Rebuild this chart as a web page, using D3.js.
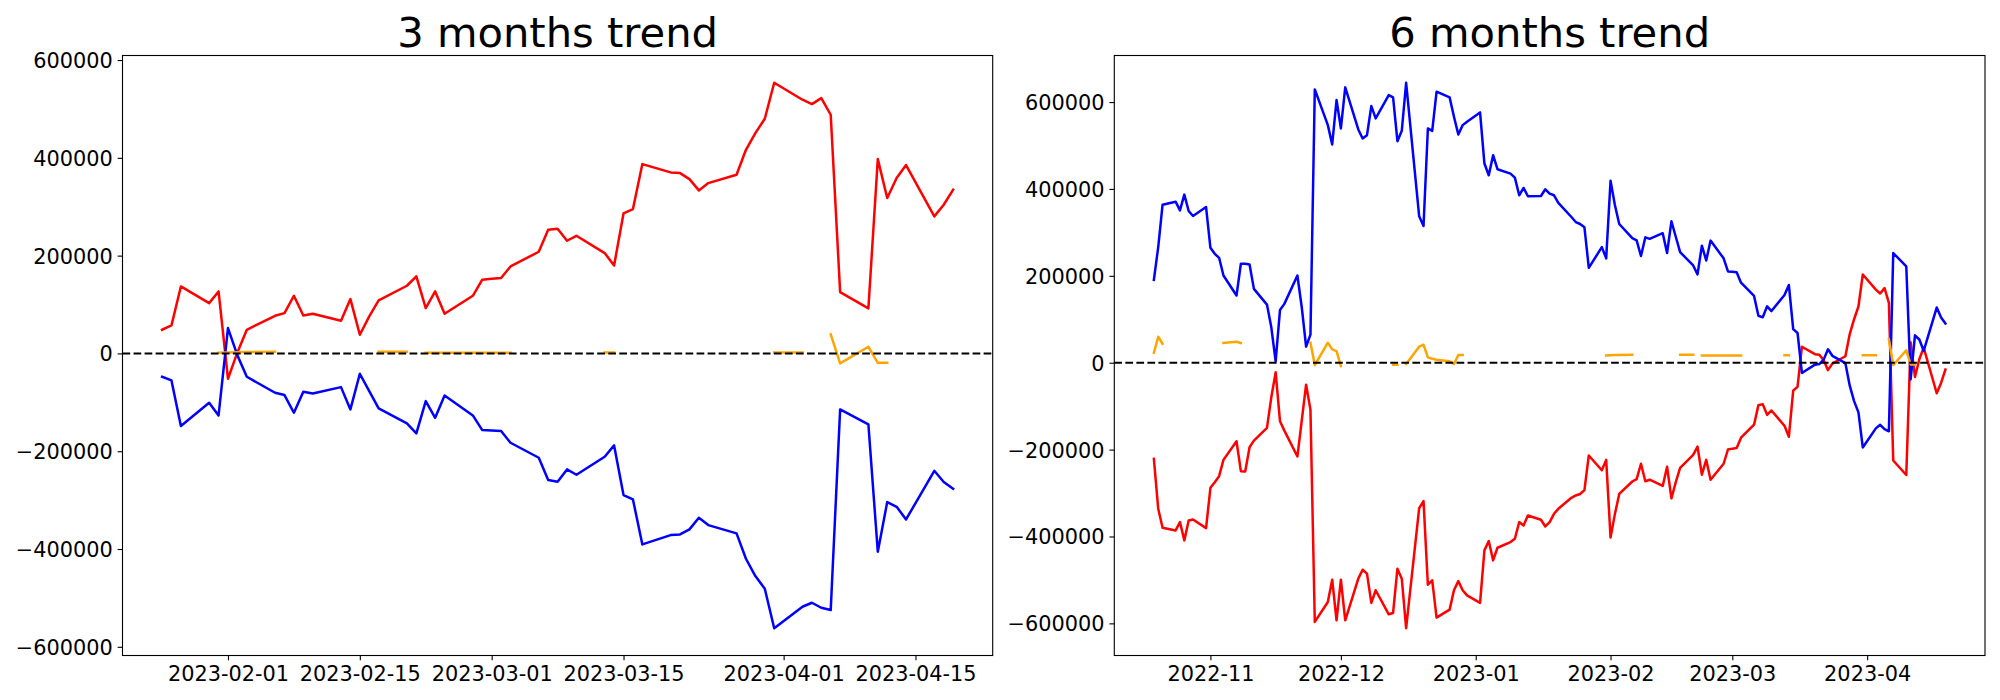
<!DOCTYPE html>
<html><head><meta charset="utf-8">
<script src="https://cdn.jsdelivr.net/npm/d3@7"></script>
<style>body{margin:0;background:#fff} text{font-family:"DejaVu Sans",sans-serif}</style>
</head><body>
<svg id="chart" width="2000" height="700"></svg>
<script>
// ---------- data ----------
const titles = ["3 months trend", "6 months trend"];
const leftRange = ["2023-01-25", "2023-04-19"];   // business days
const rightRange = ["2022-10-19", "2023-04-19"];  // business days

const leftRed = [
  48400, 57300, 137000, 102900, 126800,
  -51800, 2000, 48400, 77000, 82500, 117900, 77700, 81100, 66800, 111100, 38200, 75700, 108400, 138400, 157500, 92700, 126800, 81100, 117900, 150700,
  152700, 154100, 177900, 207900, 252900, 255000, 230400, 240600, 205200, 180000, 286300, 295200, 387200, 370200, 368800, 356500, 333400, 348300, 365400, 416500, 450600, 479900, 553500,
  518800, 509900, 522200, 488100, 125400, 92000, 397400, 317700, 358600, 385200, 280200, 304000, 334700];
const leftBlue = [
  -47700, -55200, -148600, -100900, -126800,
  51800, -4000, -47700, -80400, -85200, -121300, -78400, -81800, -68900, -114500, -41600, -77000, -112500, -143200, -163600, -97500, -131600, -85900, -126800, -156800,
  -157500, -158800, -182700, -213400, -259000, -262500, -237200, -248100, -211300, -188100, -289700, -298600, -390600, -371500, -370200, -359900, -336100, -351100, -368100, -419900, -455400, -481300, -562000,
  -518100, -509900, -520100, -524900, -114500, -145200, -405600, -304000, -313600, -339500, -240000, -263100, -276800];
const leftOrange = [
  null, null, null, null, 1500,
  2000, 2500, 3000, 3500, null, null, null, null, null, null, null, null, 3500, 3500, null, 1500, 1500, 1500, 1500, 1500,
  1500, 1500, 1500, null, null, null, null, null, 2000, 2000, null, null, null, null, null, null, null, null, null, null, null, null, 2000,
  2000, null, null, 38900, -20400, 13600, -19100, -19100, null, null, null, null, null];

const rightBlue = [
  190800, 266100, 363800, 370700, 350700, 386900, 349200, 337600, 358400,
  264600, 250700, 241500, 200800, 154600, 227700, 227700, 226100, 170000, 133800, 81500, 3100, 121500, 135400, 200800, 127700, 36900, 64600, 629200, 546900, 502300, 604600,
  539200, 633800, 536900, 516100, 523800, 590800, 562300, 616100, 610800, 510000, 533800, 644400, 336900, 314600, 539200, 533800, 623800, 610800, 566200, 525400, 546900, 554600,
  576200, 458500, 431600, 477700, 445400, 435400, 426100, 385400, 402300, 383100, 383800, 399200, 389200, 385400, 367700, 335400, 323800, 319300, 311800, 218400, 266100, 240200,
  418800, 363000, 319300, 286600, 281800, 245700, 288600, 285200, 298100, 252500, 325400, 290000, 254500, 223800, 203400, 269500, 235400, 281100, 240200, 210200,
  209500, 208200, 184300, 153600, 108000, 104500, 129800, 118900, 155700, 178900, 77300, 68400, -23600, -4500, -3200, 7100, 30900, 15900, -1100, -52900, -88400, -114300, -195000,
  -151100, -142900, -153100, -157900, 252500, 221800, -38600, 63000, 53400, 27500, 127000, 103900, 90200];
const rightRed = [
  -221400, -336300, -379900, -386100, -367000, -409000, -363100, -360800, -380700,
  -288000, -275000, -261200, -223700, -180800, -249700, -250500, -194600, -179200, -150100, -79700, -22200, -134800, -156300, -216000, -133300, -50600, -108000, -596700, -550800, -499400, -593100,
  -499400, -593100, -497100, -476500, -485600, -552900, -523800, -579100, -576000, -474200, -497100, -611200, -334700, -318700, -511000, -501000, -586800, -568400, -523900, -502700, -523900, -535500,
  -553000, -432000, -410600, -455000, -425900, -412900, -405200, -366900, -374600, -351600, -361600, -376900, -366900, -347800, -336300, -311000, -305600, -302100, -293200, -213500, -247600, -223700,
  -402300, -348500, -302100, -273500, -268000, -232600, -272800, -269400, -283700, -239400, -312300, -274800, -242100, -212100, -193000, -257800, -223700, -269400, -232600, -199800,
  -197800, -196400, -172600, -142600, -97600, -95500, -120100, -109900, -145300, -170500, -64200, -55300, 36700, 19700, 18300, 6000, -17100, -2200, 14900, 66000, 100100, 129400, 203000,
  168300, 159400, 171700, 137600, -225100, -258500, 46900, -32800, 8100, 34700, -70300, -46500, -15800];
const rightOrange = [
  23000, 59800, 43700, null, null, null, null, null, null,
  null, null, null, 45400, 48400, 45400, null, null, null, null, null, null, null, null, null, null, null, 46000, -5400, 46000, 30700, 26800,
  -7700, null, null, null, null, null, null, null, -4600, -4600, null, -3100, 36900, 41500, 12300, 9000, 6900, 3100, -3100, 17700, 17700, null,
  null, null, null, null, null, null, null, null, null, null, null, null, null, null, null, null, null, null, null, null, null, 16500,
  17000, 17500, 18000, 18500, null, null, null, null, null, null, null, null, 18500, 18500, null, 16500, 16500, 16500, 16500, 16500,
  16500, 16500, 16500, null, null, null, null, null, 17000, 17000, null, null, null, null, null, null, null, null, null, null, null, null, 17000,
  17000, null, null, 53900, -5400, 28600, -4100, -4100, null, null, null, null, null];

const leftXTicks = ["2023-02-01", "2023-02-15", "2023-03-01", "2023-03-15", "2023-04-01", "2023-04-15"];
const rightXTicks = ["2022-11-01", "2022-12-01", "2023-01-01", "2023-02-01", "2023-03-01", "2023-04-01"];
const yTicks = [-600000, -400000, -200000, 0, 200000, 400000, 600000];

// ---------- drawing ----------
const parse = d3.timeParse("%Y-%m-%d");
function businessDays(r) {
  return d3.timeDay.range(parse(r[0]), d3.timeDay.offset(parse(r[1]), 1))
    .filter(d => d.getDay() !== 0 && d.getDay() !== 6);
}
const svg = d3.select("#chart");
svg.append("rect").attr("width", 2000).attr("height", 700).attr("fill", "#fff");

const TICK = 4.86, PAD = 4.86, FS = 20.83, LW = 2.5;

function panel(idx, box, dateRange, red, blue, orange, xTicks, xFmt) {
  const dates = businessDays(dateRange);
  const [d0, d1] = [dates[0], dates[dates.length - 1]];
  const span = d1 - d0;
  const x = d3.scaleTime().domain([new Date(+d0 - 0.05 * span), new Date(+d1 + 0.05 * span)]).range([box.x0, box.x1]);
  const all = red.concat(blue, orange).filter(v => v != null);
  const mn = d3.min(all), mx = d3.max(all), r = mx - mn;
  const y = d3.scaleLinear().domain([mn - 0.05 * r, mx + 0.05 * r]).range([box.y1, box.y0]);

  const g = svg.append("g");
  const clipId = "clip" + idx;
  g.append("clipPath").attr("id", clipId).append("rect")
    .attr("x", box.x0).attr("y", box.y0).attr("width", box.x1 - box.x0).attr("height", box.y1 - box.y0);

  const line = d3.line().defined(d => d.v != null).x(d => x(d.d)).y(d => y(d.v));
  const plot = g.append("g").attr("clip-path", `url(#${clipId})`);
  [[red, "#ff0000"], [blue, "#0000ff"], [orange, "#ffa500"]].forEach(([vals, col]) => {
    plot.append("path")
      .datum(vals.map((v, i) => ({d: dates[i], v})))
      .attr("fill", "none").attr("stroke", col).attr("stroke-width", LW)
      .attr("stroke-linejoin", "round").attr("stroke-linecap", "square")
      .attr("d", line);
  });
  plot.append("line").attr("x1", box.x0).attr("x2", box.x1).attr("y1", y(0)).attr("y2", y(0))
    .attr("stroke", "#000").attr("stroke-width", 2.08).attr("stroke-dasharray", "7.71,3.33");

  // axes
  const xa = g.append("g").attr("transform", `translate(0,${box.y1})`)
    .call(d3.axisBottom(x).tickValues(xTicks.map(parse)).tickFormat(d3.timeFormat(xFmt))
      .tickSizeOuter(0).tickSize(TICK).tickPadding(PAD));
  const ya = g.append("g").attr("transform", `translate(${box.x0},0)`)
    .call(d3.axisLeft(y).tickValues(yTicks).tickFormat(d => d < 0 ? "\u2212" + Math.abs(d) : String(d))
      .tickSizeOuter(0).tickSize(TICK).tickPadding(PAD));
  [xa, ya].forEach(a => {
    a.select(".domain").remove();
    a.selectAll(".tick line").attr("stroke", "#000").attr("stroke-width", 1.11);
    a.selectAll(".tick text").attr("fill", "#000").style("font-size", FS + "px")
      .style("font-family", '"DejaVu Sans", sans-serif');
  });
  xa.selectAll(".tick text").attr("dy", "0.78em");
  ya.selectAll(".tick text").attr("dy", "0.36em");

  g.append("rect").attr("x", box.x0).attr("y", box.y0).attr("width", box.x1 - box.x0).attr("height", box.y1 - box.y0)
    .attr("fill", "none").attr("stroke", "#000").attr("stroke-width", 1.11);

  g.append("text").attr("x", (box.x0 + box.x1) / 2).attr("y", 46.7).attr("text-anchor", "middle")
    .style("font-size", "41.67px").attr("fill", "#000").text(titles[idx]);
}

panel(0, {x0: 122.5, x1: 992.7, y0: 55.5, y1: 655.5}, leftRange, leftRed, leftBlue, leftOrange, leftXTicks, "%Y-%m-%d");
panel(1, {x0: 1114.3, x1: 1985, y0: 55.5, y1: 655.5}, rightRange, rightRed, rightBlue, rightOrange, rightXTicks, "%Y-%m");
</script>
</body></html>
